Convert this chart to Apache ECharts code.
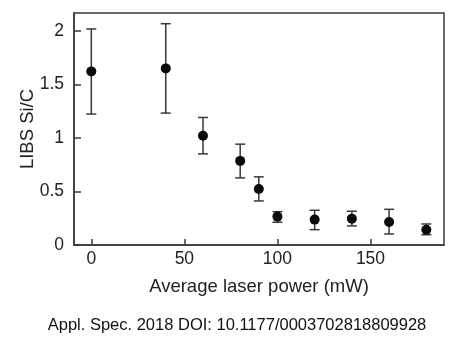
<!DOCTYPE html>
<html>
<head>
<meta charset="utf-8">
<script src="https://cdn.jsdelivr.net/npm/echarts@6/dist/echarts.min.js"></script>
<style>
  html, body { margin: 0; padding: 0; background: #fff; }
  #chart { width: 474px; height: 351px; }
</style>
</head>
<body>
<div id="chart"></div>
<script>
// data
var power = [0, 40, 60, 80, 90, 100, 120, 140, 160, 180];
var ratio = [1.62, 1.648, 1.02, 0.785, 0.523, 0.265, 0.237, 0.246, 0.215, 0.143];
var errHigh = [2.016, 2.065, 1.19, 0.941, 0.636, 0.311, 0.324, 0.315, 0.333, 0.196];
var errLow = [1.222, 1.231, 0.85, 0.626, 0.411, 0.212, 0.143, 0.178, 0.103, 0.096];
var xTicks = [0, 50, 100, 150];
var yTicks = [0, 0.5, 1, 1.5, 2];

var lineColor = '#3a3a3a';
var font = 'Liberation Sans, Arial, sans-serif';

var points = power.map(function (p, i) { return [p, ratio[i]]; });
var bars = power.map(function (p, i) { return [p, errLow[i], errHigh[i]]; });

var myChart = echarts.init(document.getElementById('chart'));
myChart.setOption({
    animation: false,
    title: {
        text: 'Appl. Spec. 2018 DOI: 10.1177/0003702818809928',
        left: 'center',
        top: 312,
        textStyle: { fontFamily: font, fontSize: 16.5, fontWeight: 'normal', color: '#111' }
    },
    grid: { left: 74, right: 30, top: 13, bottom: 106, show: true, borderColor: lineColor, borderWidth: 1.5 },
    xAxis: {
        type: 'value',
        min: -9.3,
        max: 189.5,
        name: 'Average laser power (mW)',
        nameLocation: 'middle',
        nameGap: 32,
        nameMoveOverlap: false,
        nameTextStyle: { fontFamily: font, fontSize: 18.5, color: '#222' },
        axisLine: { onZero: false, lineStyle: { color: lineColor, width: 1.5 } },
        axisTick: { inside: true, length: 6, customValues: xTicks, lineStyle: { color: lineColor, width: 1.5 } },
        axisLabel: { customValues: xTicks, margin: 5, fontFamily: font, fontSize: 17.5, color: '#222' },
        splitLine: { show: false }
    },
    yAxis: {
        type: 'value',
        min: 0,
        max: 2.165,
        name: 'LIBS Si/C',
        nameLocation: 'middle',
        nameGap: 37,
        nameMoveOverlap: false,
        nameTextStyle: { fontFamily: font, fontSize: 18.5, color: '#222' },
        axisLine: { onZero: false, lineStyle: { color: lineColor, width: 1.5 } },
        axisTick: { inside: true, length: 7, customValues: yTicks, lineStyle: { color: lineColor, width: 1.5 } },
        axisLabel: { customValues: yTicks, margin: 10, fontFamily: font, fontSize: 17.5, color: '#222' },
        splitLine: { show: false }
    },
    series: [{
        type: 'custom',
        data: bars,
        renderItem: function (params, api) {
            var lo = api.coord([api.value(0), api.value(1)]);
            var hi = api.coord([api.value(0), api.value(2)]);
            var w = 5;
            var style = { stroke: lineColor, lineWidth: 1.5 };
            return {
                type: 'group',
                children: [
                    { type: 'line', shape: { x1: lo[0], y1: lo[1], x2: hi[0], y2: hi[1] }, style: style },
                    { type: 'line', shape: { x1: lo[0] - w, y1: lo[1], x2: lo[0] + w, y2: lo[1] }, style: style },
                    { type: 'line', shape: { x1: hi[0] - w, y1: hi[1], x2: hi[0] + w, y2: hi[1] }, style: style }
                ]
            };
        },
        z: 2
    }, {
        type: 'scatter',
        data: points,
        symbolSize: 10,
        itemStyle: { color: '#0a0a0a', opacity: 1 },
        z: 3
    }]
});
</script>
</body>
</html>
